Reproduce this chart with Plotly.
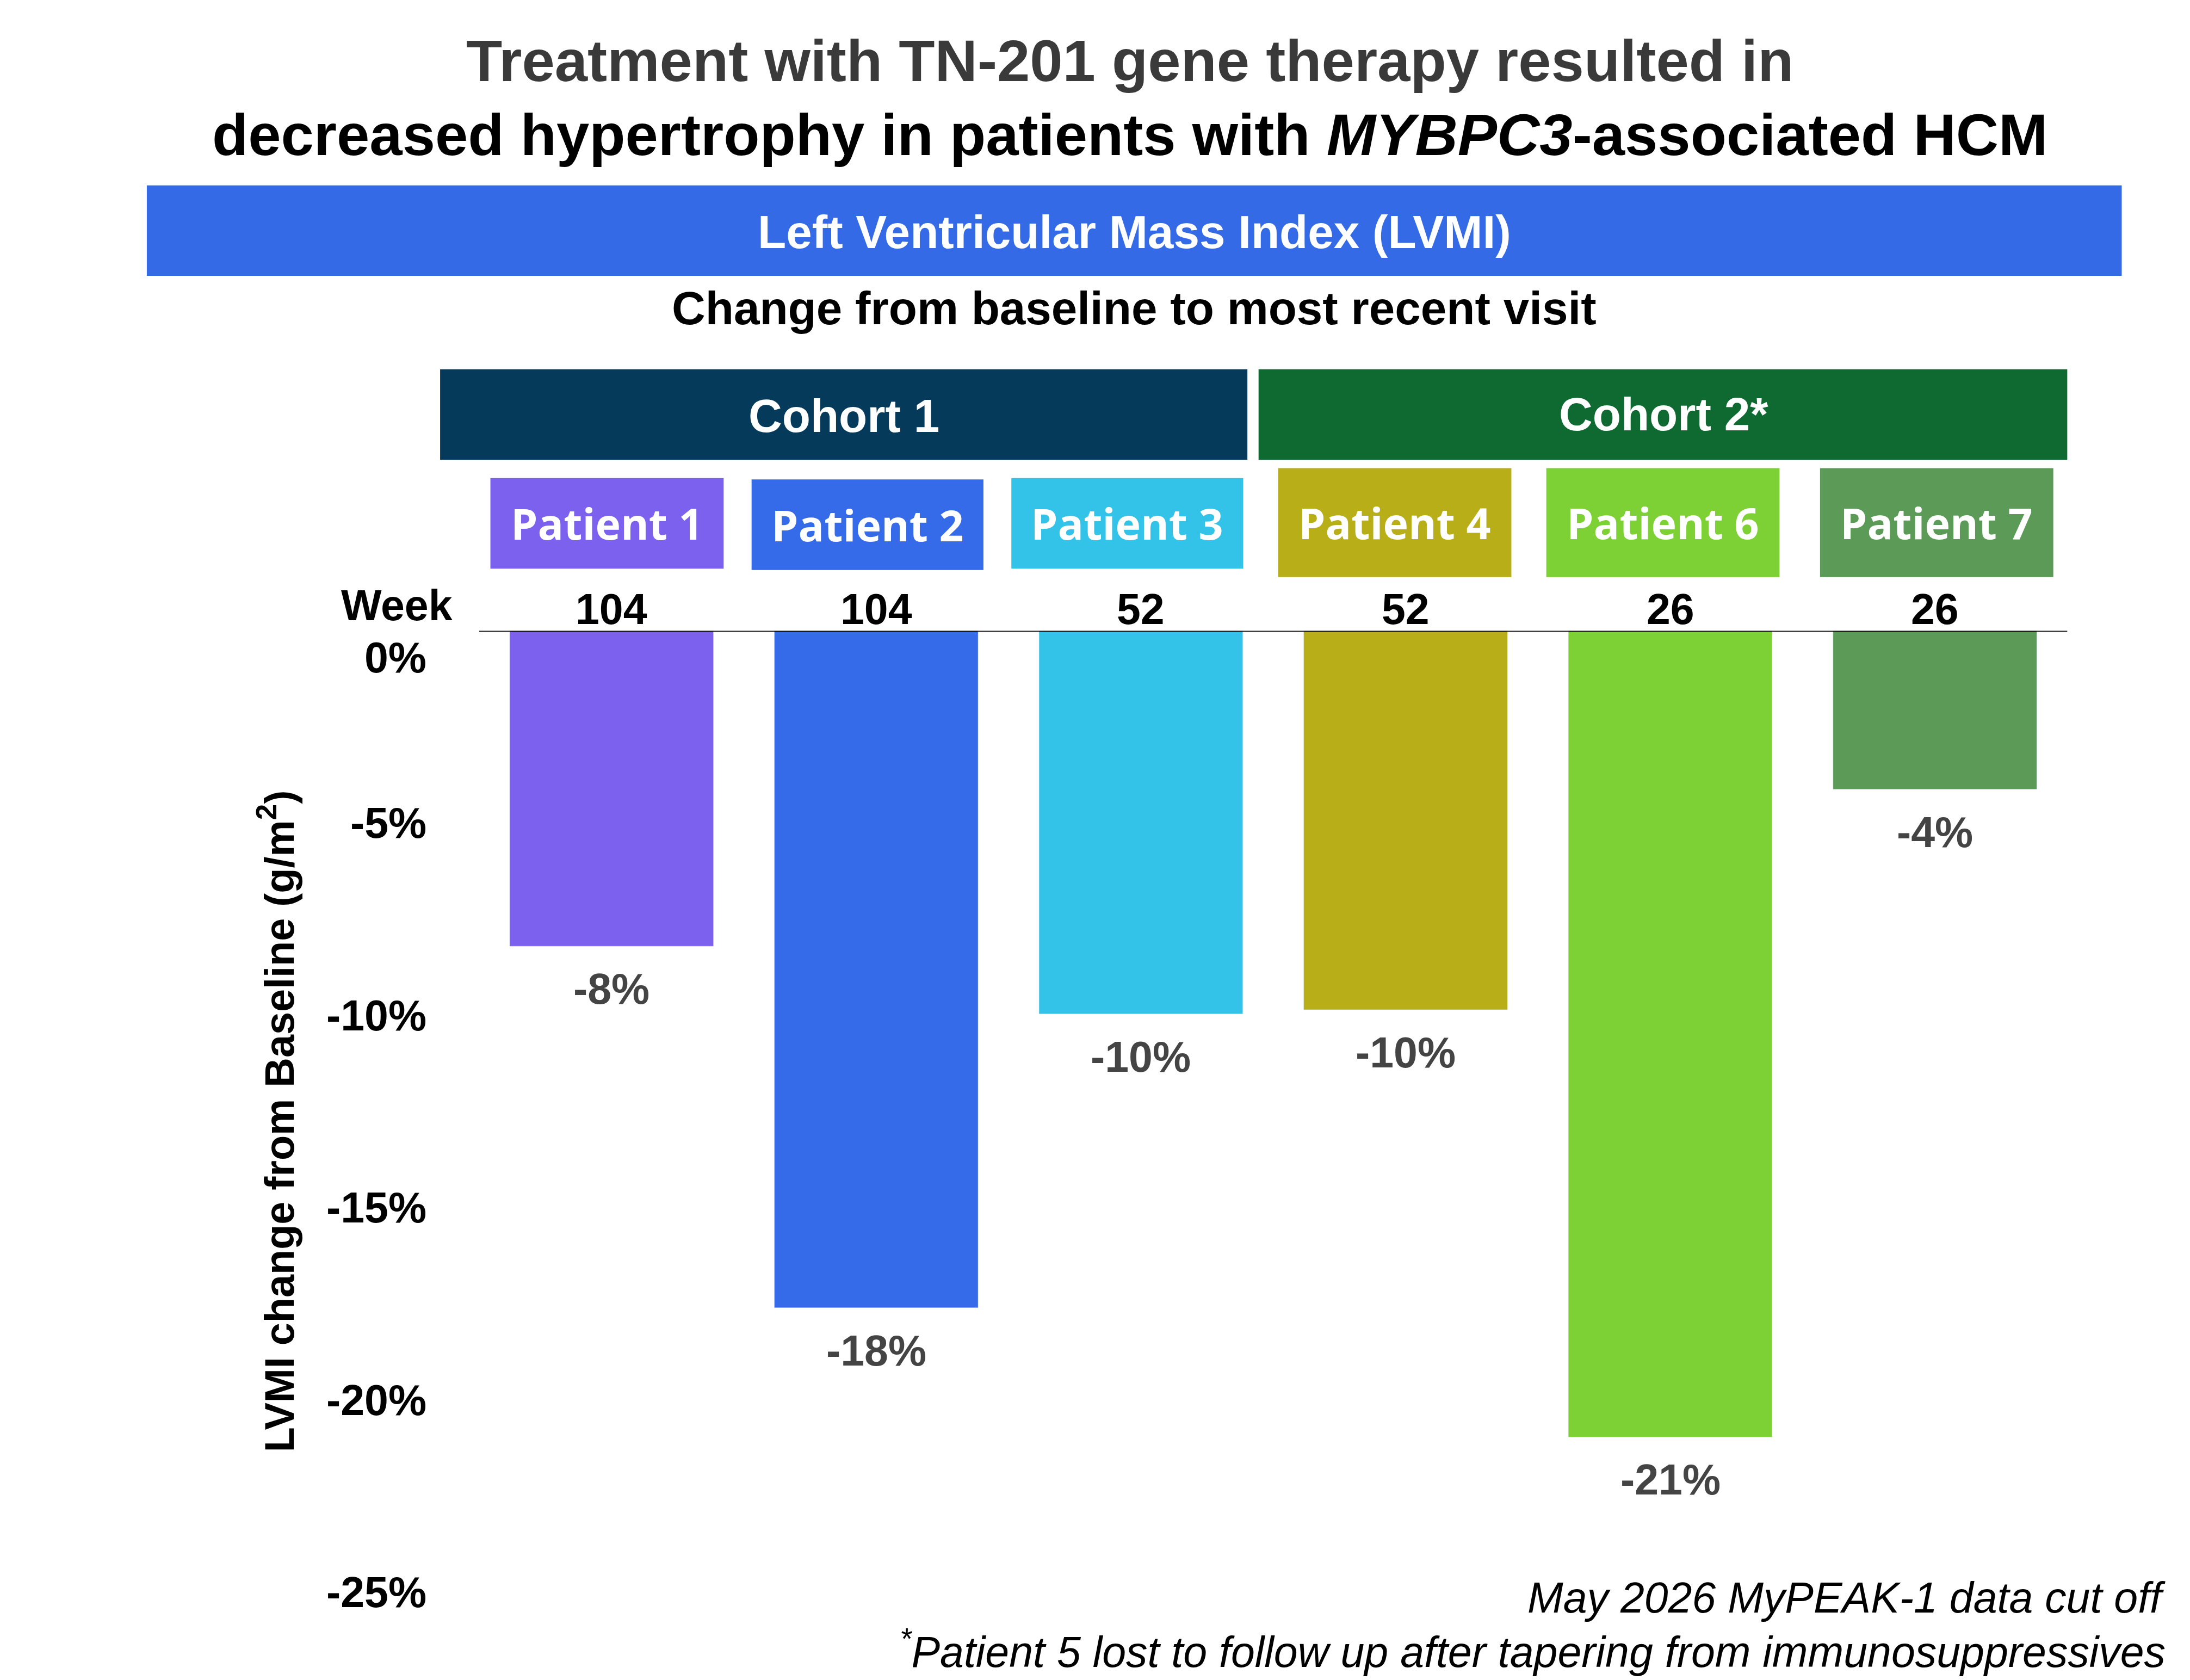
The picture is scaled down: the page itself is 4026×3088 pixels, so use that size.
import plotly.graph_objects as go

patients = ["Patient 1", "Patient 2", "Patient 3", "Patient 4", "Patient 6", "Patient 7"]
weeks = ["104", "104", "52", "52", "26", "26"]
values = [-8.2, -17.6, -9.96, -9.85, -20.96, -4.12]
labels = ["-8%", "-18%", "-10%", "-10%", "-21%", "-4%"]
colors = ["#7b61ee", "#356ae9", "#33c3e9", "#b8ae17", "#7dd134", "#5c9a57"]
yticks = [0, -5, -10, -15, -20, -25]
ytick_labels = ["0%", "-5%", "-10%", "-15%", "-20%", "-25%"]

W, H = 1568.0, 1188.0
def px(x): return x / W
def py(y): return 1 - y / H
S = 4026 / 1568 * 1.28
def fs(v): return v * S

FONT = "Liberation Sans"
fig = go.Figure(go.Bar(x=list(range(6)), y=values, marker_color=colors, width=0.77))

shapes = []
ann = []
def rect(x0, y0, x1, y1, c):
    shapes.append(dict(type="rect", xref="paper", yref="paper", x0=px(x0), x1=px(x1),
                       y0=py(y1), y1=py(y0), fillcolor=c, line_width=0, layer="below"))
def text(x, y, t, size, color="black", xanchor="center", bold=True, italic=False, textangle=0, family=FONT):
    if bold: t = "<b>" + t + "</b>"
    if italic: t = "<i>" + t + "</i>"
    ann.append(dict(xref="paper", yref="paper", x=px(x), y=py(y), text=t, showarrow=False,
                    xanchor=xanchor, yanchor="middle", textangle=textangle,
                    font=dict(size=fs(size), color=color, family=family)))

text(806, 40, "Treatment with TN-201 gene therapy resulted in", 33, "#3a3a3a")
text(806, 92, "decreased hypertrophy in patients with <i>MYBPC3</i>-associated HCM", 33, "black")
rect(102, 128, 1516, 192, "#356ae6")
text(809, 161, "Left Ventricular Mass Index (LVMI)", 26, "white")
text(809, 215, "Change from baseline to most recent visit", 26, "black")
rect(312, 258, 890, 322, "#053a5a")
text(601, 291, "Cohort 1", 26, "white")
rect(898, 258, 1477, 322, "#0f6a32")
text(1188, 290, "Cohort 2*", 26, "white")
pboxes = [(348, 335, 515, 399), (535, 336, 701, 400), (721, 335, 887, 399),
          (912, 328, 1079, 405), (1104, 328, 1271, 405), (1300, 328, 1467, 405)]
for i, (x0, y0, x1, y1) in enumerate(pboxes):
    rect(x0, y0, x1, y1, colors[i])
    text((x0 + x1) / 2, (y0 + y1) / 2, patients[i], 24, "white", family="Open Sans")
text(281, 425, "Week", 24)
for i in range(6):
    ann.append(dict(x=i, y=0, xref="x", yref="y", text="<b>" + weeks[i] + "</b>", showarrow=False,
                    yanchor="bottom", yshift=-fs(2), font=dict(size=fs(24), color="black", family=FONT)))
    ann.append(dict(x=i, y=values[i], xref="x", yref="y", text="<b>" + labels[i] + "</b>", showarrow=False,
                    yanchor="top", yshift=-fs(10), font=dict(size=fs(24), color="#444444", family=FONT)))
for v, t in zip(yticks, ytick_labels):
    ann.append(dict(x=px(303), y=v, xref="paper", yref="y", text="<b>" + t + "</b>", showarrow=False,
                    xanchor="right", yanchor="middle", yshift=-fs(15) if v == 0 else 0,
                    font=dict(size=fs(24), color="black", family=FONT)))
text(195, 790, "LVMI change from Baseline (g/m<sup>2</sup>)", 23, textangle=-90)
text(1548, 1127, "May 2026 MyPEAK-1 data cut off", 24, "black", xanchor="right", bold=False, italic=True)
text(1548, 1163, "<sup>*</sup>Patient 5 lost to follow up after tapering from immunosuppressives", 24, "black",
     xanchor="right", bold=False, italic=True)
shapes.append(dict(type="line", xref="paper", yref="y", x0=px(340), x1=px(1477), y0=0, y1=0,
                   line=dict(color="black", width=3)))

fig.update_layout(
    width=4026, height=3088, margin=dict(l=0, r=0, t=0, b=0),
    paper_bgcolor="white", plot_bgcolor="white", showlegend=False,
    xaxis=dict(domain=[px(340), px(1477)], range=[-0.5, 5.5], visible=False),
    yaxis=dict(domain=[py(1123), py(443)], range=[-25, 0], visible=False),
    shapes=shapes, annotations=ann,
)
fig.write_html("out.html")
